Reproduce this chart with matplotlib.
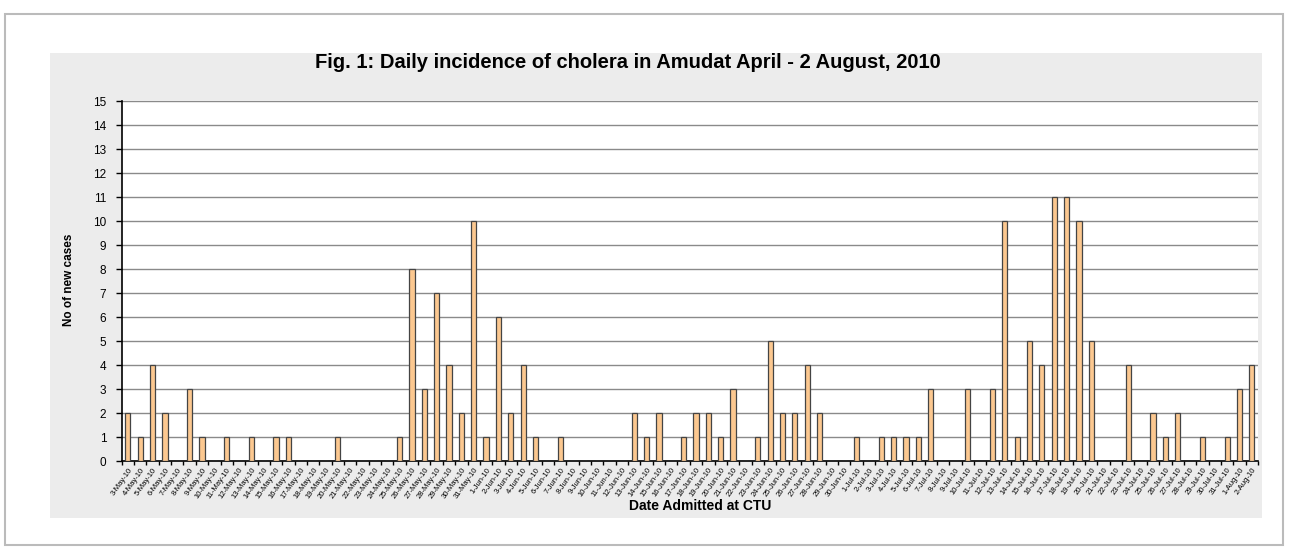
import numpy as np
import pandas as pd
import matplotlib
matplotlib.use("Agg")
import matplotlib.pyplot as plt
from matplotlib.patches import Rectangle

# Dates admitted (daily, 3 May - 2 Aug 2010)
dates = pd.date_range("2010-05-03", "2010-08-02", freq="D")
date_labels = [f"{d.day}-{d:%b}-{d:%y}" for d in dates]

# New cases per day
new_cases = [2, 1, 4, 2, 0, 3, 1, 0, 1, 0,
             1, 0, 1, 1, 0, 0, 0, 1, 0, 0,
             0, 0, 1, 8, 3, 7, 4, 2, 10, 1,
             6, 2, 4, 1, 0, 1, 0, 0, 0, 0,
             0, 2, 1, 2, 0, 1, 2, 2, 1, 3,
             0, 1, 5, 2, 2, 4, 2, 0, 0, 1,
             0, 1, 1, 1, 1, 3, 0, 0, 3, 0,
             3, 10, 1, 5, 4, 11, 11, 10, 5, 0,
             0, 4, 0, 2, 1, 2, 0, 1, 0, 1,
             3, 4]

title = "Fig. 1: Daily incidence of cholera in Amudat April - 2 August, 2010"

plt.rcParams['font.family'] = ['Liberation Sans', 'DejaVu Sans']

fig = plt.figure(figsize=(12.9, 5.5), dpi=100)
fig.patch.set_facecolor("white")

# outer frame + grey chart area
fig.patches.append(Rectangle((5 / 1290, 5 / 550), 1278 / 1290, 531 / 550,
                             transform=fig.transFigure, facecolor="white",
                             edgecolor="#bbbbbb", linewidth=1.5, zorder=-2))
fig.patches.append(Rectangle((50 / 1290, 32 / 550), 1212 / 1290, 465 / 550,
                             transform=fig.transFigure, facecolor="#ececec",
                             edgecolor="none", zorder=-1))

ax = fig.add_axes([121.7 / 1290, 89 / 550, (1258 - 121.7) / 1290, 360 / 550])
ax.set_zorder(2)
ax.set_facecolor("white")

x = np.arange(len(new_cases))
ax.bar(x, new_cases, width=0.42, color="#fcc890", edgecolor="#444444",
       linewidth=0.9, zorder=3)

ax.set_xlim(-0.5, len(new_cases) - 0.5)
ax.set_ylim(0, 15)
ax.set_yticks(range(0, 16))
ax.yaxis.grid(True, color="#8a8a8a", linewidth=1.0, zorder=0)
ax.set_axisbelow(True)
ax.tick_params(axis="y", labelsize=8.5, length=4, width=1, direction="out", pad=7)

ax.set_xticks(x)
ax.set_xticklabels(date_labels, rotation=55, ha="right", fontsize=5.5,
                   rotation_mode="anchor")
ax.set_xticks(np.arange(-0.5, len(new_cases), 1), minor=True)
ax.tick_params(axis="x", which="major", length=0, pad=4)
ax.tick_params(axis="x", which="minor", length=3, width=1, direction="out")

for side in ["top", "right"]:
    ax.spines[side].set_visible(False)
ax.spines["left"].set_color("black")
ax.spines["bottom"].set_color("black")
ax.spines["left"].set_linewidth(1.2)
ax.spines["bottom"].set_linewidth(1.2)

fig.text(628 / 1290, 1 - 63 / 550, title, ha="center", va="center",
         fontsize=14.5, fontweight="bold", zorder=3)
fig.text(69 / 1290, 1 - 280 / 550, "No of new cases", rotation=90,
         ha="center", va="center", fontsize=8.5, fontweight="bold",
         family=['Liberation Sans Narrow', 'Liberation Sans', 'DejaVu Sans'],
         zorder=3)
fig.text(700 / 1290, 1 - 506 / 550, "Date Admitted at CTU", ha="center",
         va="center", fontsize=10, fontweight="bold", zorder=3)

plt.savefig("out.png", dpi=100)
